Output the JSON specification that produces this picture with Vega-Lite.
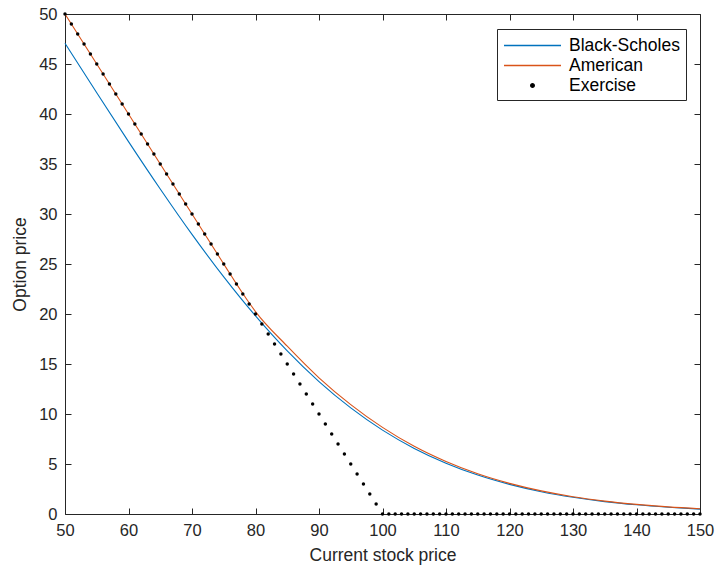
{
  "$schema": "https://vega.github.io/schema/vega-lite/v6.json",
  "width": 635,
  "height": 500,
  "autosize": {"type": "none"},
  "padding": {"left": 65, "top": 14, "right": 19, "bottom": 60},
  "background": "white",
  "config": {
    "view": {"stroke": "#262626", "strokeWidth": 1},
    "font": "Liberation Sans",
    "axis": {"grid": false, "domain": false, "labelFlush": false, "labelOverlap": false, "tickColor": "#262626", "labelColor": "#262626", "titleColor": "#262626", "labelFont": "Liberation Sans", "titleFont": "Liberation Sans", "labelFontSize": 16.5, "titleFontSize": 17.5, "titleFontWeight": "normal", "tickSize": -6, "tickWidth": 1}
  },
  "data": {"values": [
    {"S": 50, "P": 47.07, "series": "Black-Scholes"},
    {"S": 55, "P": 42.12, "series": "Black-Scholes"},
    {"S": 60, "P": 37.24, "series": "Black-Scholes"},
    {"S": 65, "P": 32.50, "series": "Black-Scholes"},
    {"S": 70, "P": 27.96, "series": "Black-Scholes"},
    {"S": 75, "P": 23.71, "series": "Black-Scholes"},
    {"S": 80, "P": 19.81, "series": "Black-Scholes"},
    {"S": 85, "P": 16.31, "series": "Black-Scholes"},
    {"S": 90, "P": 13.24, "series": "Black-Scholes"},
    {"S": 95, "P": 10.61, "series": "Black-Scholes"},
    {"S": 100, "P": 8.39, "series": "Black-Scholes"},
    {"S": 105, "P": 6.56, "series": "Black-Scholes"},
    {"S": 110, "P": 5.08, "series": "Black-Scholes"},
    {"S": 115, "P": 3.89, "series": "Black-Scholes"},
    {"S": 120, "P": 2.96, "series": "Black-Scholes"},
    {"S": 125, "P": 2.23, "series": "Black-Scholes"},
    {"S": 130, "P": 1.67, "series": "Black-Scholes"},
    {"S": 135, "P": 1.24, "series": "Black-Scholes"},
    {"S": 140, "P": 0.92, "series": "Black-Scholes"},
    {"S": 145, "P": 0.68, "series": "Black-Scholes"},
    {"S": 150, "P": 0.49, "series": "Black-Scholes"},
    {"S": 50, "P": 50, "series": "American"},
    {"S": 60, "P": 40, "series": "American"},
    {"S": 70, "P": 30, "series": "American"},
    {"S": 75, "P": 25, "series": "American"},
    {"S": 76, "P": 24, "series": "American"},
    {"S": 77, "P": 23.01, "series": "American"},
    {"S": 78, "P": 22.05, "series": "American"},
    {"S": 79, "P": 21.12, "series": "American"},
    {"S": 80, "P": 20.24, "series": "American"},
    {"S": 85, "P": 16.78, "series": "American"},
    {"S": 90, "P": 13.62, "series": "American"},
    {"S": 95, "P": 10.94, "series": "American"},
    {"S": 100, "P": 8.66, "series": "American"},
    {"S": 105, "P": 6.77, "series": "American"},
    {"S": 110, "P": 5.25, "series": "American"},
    {"S": 115, "P": 4.02, "series": "American"},
    {"S": 120, "P": 3.06, "series": "American"},
    {"S": 125, "P": 2.31, "series": "American"},
    {"S": 130, "P": 1.73, "series": "American"},
    {"S": 135, "P": 1.29, "series": "American"},
    {"S": 140, "P": 0.96, "series": "American"},
    {"S": 145, "P": 0.71, "series": "American"},
    {"S": 150, "P": 0.53, "series": "American"},
    {"S": 50, "P": 50, "series": "Exercise"}, {"S": 51, "P": 49, "series": "Exercise"}, {"S": 52, "P": 48, "series": "Exercise"}, {"S": 53, "P": 47, "series": "Exercise"}, {"S": 54, "P": 46, "series": "Exercise"},
    {"S": 55, "P": 45, "series": "Exercise"}, {"S": 56, "P": 44, "series": "Exercise"}, {"S": 57, "P": 43, "series": "Exercise"}, {"S": 58, "P": 42, "series": "Exercise"}, {"S": 59, "P": 41, "series": "Exercise"},
    {"S": 60, "P": 40, "series": "Exercise"}, {"S": 61, "P": 39, "series": "Exercise"}, {"S": 62, "P": 38, "series": "Exercise"}, {"S": 63, "P": 37, "series": "Exercise"}, {"S": 64, "P": 36, "series": "Exercise"},
    {"S": 65, "P": 35, "series": "Exercise"}, {"S": 66, "P": 34, "series": "Exercise"}, {"S": 67, "P": 33, "series": "Exercise"}, {"S": 68, "P": 32, "series": "Exercise"}, {"S": 69, "P": 31, "series": "Exercise"},
    {"S": 70, "P": 30, "series": "Exercise"}, {"S": 71, "P": 29, "series": "Exercise"}, {"S": 72, "P": 28, "series": "Exercise"}, {"S": 73, "P": 27, "series": "Exercise"}, {"S": 74, "P": 26, "series": "Exercise"},
    {"S": 75, "P": 25, "series": "Exercise"}, {"S": 76, "P": 24, "series": "Exercise"}, {"S": 77, "P": 23, "series": "Exercise"}, {"S": 78, "P": 22, "series": "Exercise"}, {"S": 79, "P": 21, "series": "Exercise"},
    {"S": 80, "P": 20, "series": "Exercise"}, {"S": 81, "P": 19, "series": "Exercise"}, {"S": 82, "P": 18, "series": "Exercise"}, {"S": 83, "P": 17, "series": "Exercise"}, {"S": 84, "P": 16, "series": "Exercise"},
    {"S": 85, "P": 15, "series": "Exercise"}, {"S": 86, "P": 14, "series": "Exercise"}, {"S": 87, "P": 13, "series": "Exercise"}, {"S": 88, "P": 12, "series": "Exercise"}, {"S": 89, "P": 11, "series": "Exercise"},
    {"S": 90, "P": 10, "series": "Exercise"}, {"S": 91, "P": 9, "series": "Exercise"}, {"S": 92, "P": 8, "series": "Exercise"}, {"S": 93, "P": 7, "series": "Exercise"}, {"S": 94, "P": 6, "series": "Exercise"},
    {"S": 95, "P": 5, "series": "Exercise"}, {"S": 96, "P": 4, "series": "Exercise"}, {"S": 97, "P": 3, "series": "Exercise"}, {"S": 98, "P": 2, "series": "Exercise"}, {"S": 99, "P": 1, "series": "Exercise"},
    {"S": 100, "P": 0, "series": "Exercise"}, {"S": 101, "P": 0, "series": "Exercise"}, {"S": 102, "P": 0, "series": "Exercise"}, {"S": 103, "P": 0, "series": "Exercise"}, {"S": 104, "P": 0, "series": "Exercise"},
    {"S": 105, "P": 0, "series": "Exercise"}, {"S": 106, "P": 0, "series": "Exercise"}, {"S": 107, "P": 0, "series": "Exercise"}, {"S": 108, "P": 0, "series": "Exercise"}, {"S": 109, "P": 0, "series": "Exercise"},
    {"S": 110, "P": 0, "series": "Exercise"}, {"S": 111, "P": 0, "series": "Exercise"}, {"S": 112, "P": 0, "series": "Exercise"}, {"S": 113, "P": 0, "series": "Exercise"}, {"S": 114, "P": 0, "series": "Exercise"},
    {"S": 115, "P": 0, "series": "Exercise"}, {"S": 116, "P": 0, "series": "Exercise"}, {"S": 117, "P": 0, "series": "Exercise"}, {"S": 118, "P": 0, "series": "Exercise"}, {"S": 119, "P": 0, "series": "Exercise"},
    {"S": 120, "P": 0, "series": "Exercise"}, {"S": 121, "P": 0, "series": "Exercise"}, {"S": 122, "P": 0, "series": "Exercise"}, {"S": 123, "P": 0, "series": "Exercise"}, {"S": 124, "P": 0, "series": "Exercise"},
    {"S": 125, "P": 0, "series": "Exercise"}, {"S": 126, "P": 0, "series": "Exercise"}, {"S": 127, "P": 0, "series": "Exercise"}, {"S": 128, "P": 0, "series": "Exercise"}, {"S": 129, "P": 0, "series": "Exercise"},
    {"S": 130, "P": 0, "series": "Exercise"}, {"S": 131, "P": 0, "series": "Exercise"}, {"S": 132, "P": 0, "series": "Exercise"}, {"S": 133, "P": 0, "series": "Exercise"}, {"S": 134, "P": 0, "series": "Exercise"},
    {"S": 135, "P": 0, "series": "Exercise"}, {"S": 136, "P": 0, "series": "Exercise"}, {"S": 137, "P": 0, "series": "Exercise"}, {"S": 138, "P": 0, "series": "Exercise"}, {"S": 139, "P": 0, "series": "Exercise"},
    {"S": 140, "P": 0, "series": "Exercise"}, {"S": 141, "P": 0, "series": "Exercise"}, {"S": 142, "P": 0, "series": "Exercise"}, {"S": 143, "P": 0, "series": "Exercise"}, {"S": 144, "P": 0, "series": "Exercise"},
    {"S": 145, "P": 0, "series": "Exercise"}, {"S": 146, "P": 0, "series": "Exercise"}, {"S": 147, "P": 0, "series": "Exercise"}, {"S": 148, "P": 0, "series": "Exercise"}, {"S": 149, "P": 0, "series": "Exercise"},
    {"S": 150, "P": 0, "series": "Exercise"}
  ]},
  "layer": [
    {
      "transform": [{"filter": "datum.series !== 'Exercise'"}],
      "mark": {"type": "line", "strokeWidth": 1.1, "interpolate": "monotone"},
      "encoding": {
        "x": {"field": "S", "type": "quantitative", "scale": {"domain": [50, 150], "nice": false, "zero": false},
              "axis": {"orient": "bottom", "values": [50, 60, 70, 80, 90, 100, 110, 120, 130, 140, 150], "title": "Current stock price", "labelPadding": 14, "titlePadding": 8, "labelFlush": false}},
        "y": {"field": "P", "type": "quantitative", "scale": {"domain": [0, 50], "nice": false},
              "axis": {"orient": "left", "values": [0, 5, 10, 15, 20, 25, 30, 35, 40, 45, 50], "title": "Option price", "labelPadding": 14, "titlePadding": 9, "labelFlush": false}},
        "color": {"field": "series", "type": "nominal",
          "scale": {"domain": ["Black-Scholes", "American", "Exercise"], "range": ["#0072BD", "#D95319", "#000000"]},
          "legend": {
            "title": null, "orient": "none", "legendX": 432, "legendY": 15,
            "strokeColor": "#262626", "fillColor": "white", "padding": 6,
            "labelFont": "Liberation Sans", "labelFontSize": 17.5, "labelColor": "#000000", "labelOffset": 26,
            "symbolType": "stroke", "symbolSize": 361, "symbolOffset": 19, "symbolStrokeWidth": 1.5, "rowPadding": 1,
            "encode": {"symbols": {"update": {
              "shape": {"signal": "datum.label === 'Exercise' ? 'circle' : 'M-3,0H3'"},
              "size": {"signal": "datum.label === 'Exercise' ? 12 : 361"},
              "fill": {"signal": "datum.label === 'Exercise' ? '#000000' : 'transparent'"},
              "stroke": {"signal": "datum.label === 'Black-Scholes' ? '#0072BD' : (datum.label === 'American' ? '#D95319' : 'transparent')"},
              "strokeWidth": {"value": 1.5},
              "opacity": {"value": 1}
            }}}
          }}
      }
    },
    {
      "transform": [{"filter": "datum.series === 'Exercise'"}],
      "mark": {"type": "point", "filled": true, "size": 12, "opacity": 1},
      "encoding": {
        "x": {"field": "S", "type": "quantitative",
              "axis": {"orient": "top", "values": [50, 60, 70, 80, 90, 100, 110, 120, 130, 140, 150], "labels": false, "title": null}},
        "y": {"field": "P", "type": "quantitative",
              "axis": {"orient": "right", "values": [0, 5, 10, 15, 20, 25, 30, 35, 40, 45, 50], "labels": false, "title": null}},
        "color": {"field": "series", "type": "nominal"}
      }
    }
  ],
  "resolve": {"axis": {"x": "independent", "y": "independent"}}
}
